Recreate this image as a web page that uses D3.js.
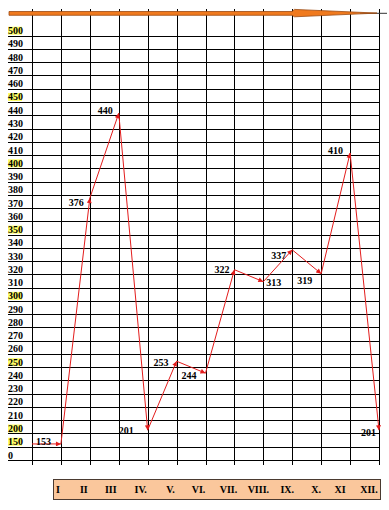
<!DOCTYPE html>
<html>
<head>
<meta charset="utf-8">
<script src="https://cdn.jsdelivr.net/npm/d3@7/dist/d3.min.js"></script>
<style>
  html, body { margin: 0; padding: 0; background: #fff; }
  svg { display: block; }
</style>
</head>
<body>
<script>
// ---- data ----
const months = ["I", "II", "III", "IV.", "V.", "VI.", "VII.", "VIII.", "IX.", "X.", "XI", "XII."];
const values = [153, 376, 440, 201, 253, 244, 322, 313, 337, 319, 410, 201];
const startValue = 153;
const yTickLabels = [500, 490, 480, 470, 460, 450, 440, 430, 420, 410, 400, 390, 380, 370, 360, 350,
  340, 330, 320, 310, 300, 290, 280, 270, 260, 250, 240, 230, 220, 210, 200, 150, 0];
const highlightedTicks = [500, 450, 400, 350, 300, 250, 200, 150];

// label placement (text-anchor, dx, dy relative to the point)
const labelPlacement = [
  ["end", -10, -2], ["end", -6, 4], ["end", -6, -3], ["end", -14, 0],
  ["end", -8, 1], ["end", -9, 2.5], ["end", -5, 0], ["start", 3, 0.5],
  ["end", -6, 6], ["end", -9, 7], ["end", -7, -3], ["end", -3, 2]
];
// horizontal shift of month labels relative to their grid line
const monthShift = [-3, -6, -8, -7, -6, -7, -6, -5, -5, -5, -10, -10];

const W = 389, H = 510;
const svg = d3.select("body").append("svg").attr("width", W).attr("height", H);
const serif = "'Liberation Serif', 'Times New Roman', serif";

// ---- scales ----
const x = d3.scaleLinear().domain([0, 12]).range([32, 379]);
const rowY = d3.scalePoint().domain(yTickLabels).range([30.7, 455]);
const y = d3.scaleLinear()
  .domain([0, 150, 200, 500])
  .range([rowY(0) + 3, rowY(150) + 3, rowY(200) + 3, rowY(500) + 3]);

// ---- grid ----
const grid = svg.append("g").attr("stroke", "#000").attr("stroke-width", 1).attr("shape-rendering", "crispEdges");
grid.selectAll("line.h").data(yTickLabels).join("line")
  .attr("class", "h")
  .attr("x1", 8).attr("x2", x(12))
  .attr("y1", d => Math.round(rowY(d) + 5) + 0.5)
  .attr("y2", d => Math.round(rowY(d) + 5) + 0.5);
grid.selectAll("line.v").data(d3.range(13)).join("line")
  .attr("class", "v")
  .attr("x1", d => Math.round(x(d)) + 0.5).attr("x2", d => Math.round(x(d)) + 0.5)
  .attr("y1", 9).attr("y2", 465);

// ---- y labels ----
svg.append("g").selectAll("rect").data(highlightedTicks).join("rect")
  .attr("x", 8).attr("width", 14)
  .attr("y", d => rowY(d) - 4).attr("height", 8)
  .attr("fill", "#ffff66");
svg.append("g").selectAll("text").data(yTickLabels).join("text")
  .attr("x", 8).attr("y", d => rowY(d)).attr("dy", "0.35em")
  .attr("font-family", serif).attr("font-weight", "bold").attr("font-size", 10)
  .attr("fill", "#000")
  .text(d => d);

// ---- top orange arrow ----
svg.append("line")
  .attr("x1", 360).attr("x2", 387).attr("y1", 13.3).attr("y2", 13.3)
  .attr("stroke", "#333").attr("stroke-width", 1);
svg.append("path")
  .attr("d", "M9,11.5 H292 L294.5,9.4 L377,13.1 L294.5,16.8 L292,15.3 H9 Z")
  .attr("fill", "#f07a1e").attr("stroke", "#9c4a12").attr("stroke-width", 0.8);

// ---- series ----
const defs = svg.append("defs");
defs.append("marker")
  .attr("id", "arr").attr("viewBox", "0 0 10 10")
  .attr("refX", 10).attr("refY", 5)
  .attr("markerWidth", 6).attr("markerHeight", 5)
  .attr("markerUnits", "userSpaceOnUse")
  .attr("orient", "auto")
  .append("path").attr("d", "M0,0 L10,5 L0,10 Z").attr("fill", "#e31c1c");

const pts = [[0, startValue]].concat(values.map((v, i) => [i + 1, v]));
const segs = d3.range(pts.length - 1).map(k => [pts[k], pts[k + 1]]);
svg.append("g").selectAll("line").data(segs).join("line")
  .attr("x1", d => x(d[0][0])).attr("y1", d => y(d[0][1]))
  .attr("x2", d => x(d[1][0])).attr("y2", d => y(d[1][1]))
  .attr("stroke", "#e31c1c").attr("stroke-width", 1)
  .attr("marker-end", "url(#arr)");

// value labels
svg.append("g").selectAll("text").data(values).join("text")
  .attr("x", (d, i) => x(i + 1) + labelPlacement[i][1])
  .attr("y", (d, i) => y(d) + labelPlacement[i][2])
  .attr("dy", "0.35em")
  .attr("text-anchor", (d, i) => labelPlacement[i][0])
  .attr("font-family", serif).attr("font-weight", "bold").attr("font-size", 10)
  .attr("fill", "#000")
  .text(d => d);

// ---- month box ----
svg.append("rect")
  .attr("x", 53.5).attr("y", 479.5).attr("width", 327).attr("height", 20)
  .attr("fill", "#fac79c").attr("stroke", "#4a3a30").attr("stroke-width", 1);
svg.append("g").selectAll("text").data(months).join("text")
  .attr("x", (d, i) => x(i + 1) + monthShift[i]).attr("y", 489.5).attr("dy", "0.35em")
  .attr("text-anchor", "middle")
  .attr("font-family", serif).attr("font-weight", "bold").attr("font-size", 10)
  .attr("fill", "#000")
  .text(d => d);
</script>
</body>
</html>
